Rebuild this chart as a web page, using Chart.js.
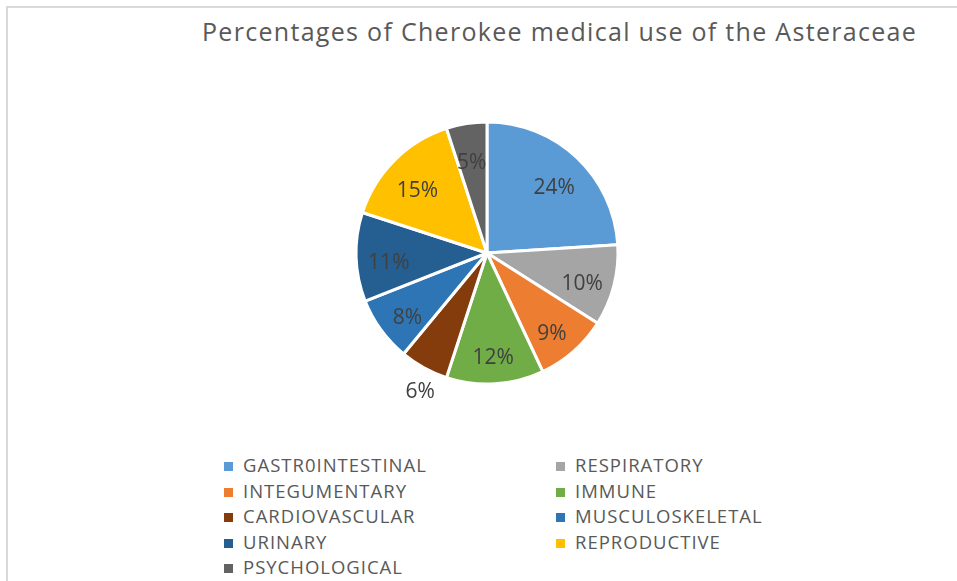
<!DOCTYPE html>
<html>
<head>
<meta charset="utf-8">
<script src="https://cdn.jsdelivr.net/npm/chart.js@4"></script>
<style>
    html, body { margin: 0; padding: 0; background: #fff; }
    body { width: 957px; height: 581px; position: relative; overflow: hidden; font-family: 'Open Sans', 'Liberation Sans', sans-serif; }
    #frame { position: absolute; left: 6px; top: 6px; width: 980px; height: 600px; border-top: 2px solid #d9d9d9; border-left: 2px solid #d9d9d9; }
    #title { position: absolute; left: 202px; top: 14px; font-size: 25px; letter-spacing: 1.3px; color: #595959; white-space: nowrap; }
    #chartBox { position: absolute; left: 317px; top: 83px; width: 340px; height: 340px; }
    #legend { position: absolute; left: 224px; top: 452px; width: 600px; }
    .item { position: absolute; font-size: 18.5px; letter-spacing: 1px; color: #595959; white-space: nowrap; line-height: 26px; }
    .item span.box { display: inline-block; width: 9px; height: 9px; margin-right: 10px; vertical-align: 1px; }
</style>
</head>
<body>
<div id="frame"></div>
<div id="title">Percentages of Cherokee medical use of the Asteraceae</div>
<div id="chartBox"><canvas id="pieChart"></canvas></div>
<div id="legend"></div>

<script>
// Chart data
const categories = ['GASTR0INTESTINAL', 'RESPIRATORY', 'INTEGUMENTARY', 'IMMUNE', 'CARDIOVASCULAR',
    'MUSCULOSKELETAL', 'URINARY', 'REPRODUCTIVE', 'PSYCHOLOGICAL'];
const percentages = [24, 10, 9, 12, 6, 8, 11, 15, 5];
const sliceColors = ['#5b9bd5', '#a5a5a5', '#ed7d31', '#70ad47', '#843c0c',
    '#2e75b6', '#255e91', '#ffc000', '#636363'];

// Slice labels drawn outside the pie (Excel best fit put this one outside)
const outsideLabels = ['CARDIOVASCULAR'];

// Draws the percentage labels on top of the slices
const sliceLabels = {
    id: 'sliceLabels',
    afterDatasetsDraw(chart) {
        const ctx = chart.ctx;
        const meta = chart.getDatasetMeta(0);
        ctx.save();
        ctx.font = '21px "Open Sans", sans-serif';
        ctx.fillStyle = '#404040';
        ctx.textAlign = 'center';
        ctx.textBaseline = 'middle';
        meta.data.forEach((arc, i) => {
            const p = arc.getProps(['x', 'y', 'startAngle', 'endAngle', 'outerRadius'], true);
            const mid = (p.startAngle + p.endAngle) / 2;
            const outside = outsideLabels.includes(categories[i]);
            const r = p.outerRadius * (outside ? 1.17 : 0.75);
            const dx = outside ? 7 : 0;
            const dy = outside ? 5 : 7;
            ctx.fillText(percentages[i] + '%', p.x + Math.cos(mid) * r + dx, p.y + Math.sin(mid) * r + dy);
        });
        ctx.restore();
    }
};

function createPieChart() {
    const ctx = document.getElementById('pieChart').getContext('2d');
    new Chart(ctx, {
        type: 'pie',
        data: {
            labels: categories,
            datasets: [{
                data: percentages,
                backgroundColor: sliceColors,
                borderColor: '#ffffff',
                borderWidth: 3
            }]
        },
        options: {
            responsive: true,
            maintainAspectRatio: false,
            animation: false,
            radius: 131,
            layout: { padding: 0 },
            plugins: {
                legend: { display: false },
                tooltip: { enabled: false }
            }
        },
        plugins: [sliceLabels]
    });
}

// Two-column legend, filled row by row
function buildLegend() {
    const legend = document.getElementById('legend');
    categories.forEach((name, i) => {
        const div = document.createElement('div');
        div.className = 'item';
        div.style.left = (i % 2 === 0 ? 0 : 332) + 'px';
        div.style.top = (Math.floor(i / 2) * 25.5) + 'px';
        div.innerHTML = '<span class="box" style="background:' + sliceColors[i] + '"></span>' + name;
        legend.appendChild(div);
    });
}

buildLegend();
createPieChart();
</script>
</body>
</html>
